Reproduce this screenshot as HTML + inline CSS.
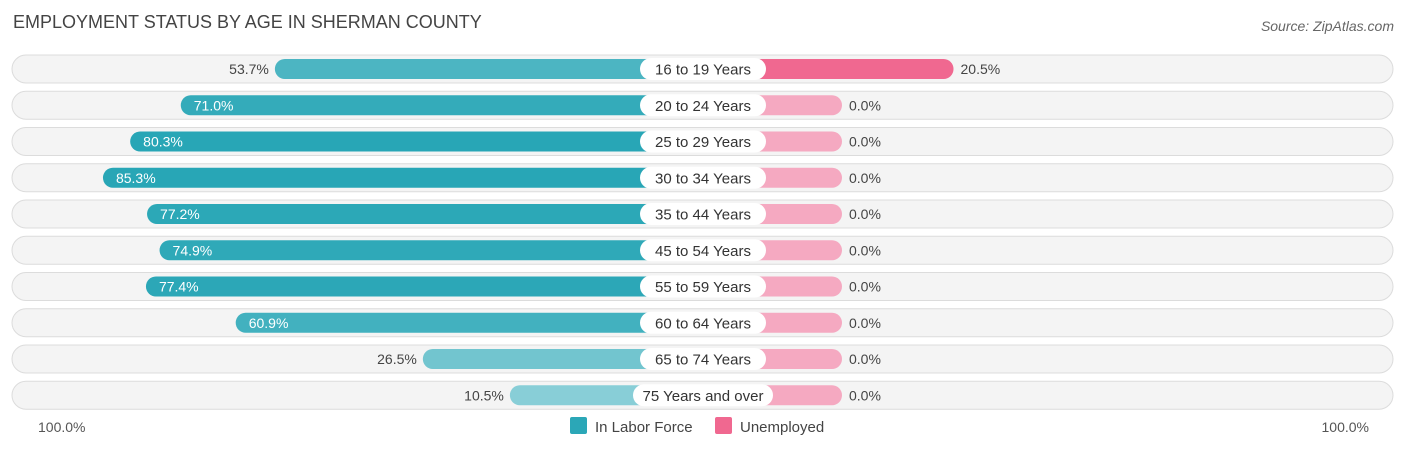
<!DOCTYPE html>
<html><head><meta charset="utf-8"><style>
body{margin:0;background:#fff;font-family:"Liberation Sans",sans-serif}
</style></head><body>
<svg id="c" width="1406" height="450" xmlns="http://www.w3.org/2000/svg">
<text x="13" y="28" font-size="18" fill="#444">EMPLOYMENT STATUS BY AGE IN SHERMAN COUNTY</text>
<text x="1394" y="31" font-size="14" fill="#666" font-style="italic" text-anchor="end">Source: ZipAtlas.com</text>
<g id="rows"></g>
<text x="38" y="432" font-size="14" fill="#555">100.0%</text>
<text x="1369" y="432" font-size="14" fill="#555" text-anchor="end">100.0%</text>
<rect x="570" y="417" width="17" height="17" rx="2" fill="#2ba7b7"/>
<text x="595" y="432" font-size="15" fill="#444">In Labor Force</text>
<rect x="715" y="417" width="17" height="17" rx="2" fill="#f06890"/>
<text x="740" y="432" font-size="15" fill="#444">Unemployed</text>
</svg>
<script>
const categories=["16 to 19 Years","20 to 24 Years","25 to 29 Years","30 to 34 Years","35 to 44 Years","45 to 54 Years","55 to 59 Years","60 to 64 Years","65 to 74 Years","75 Years and over"];
const laborForce=[53.7,71.0,80.3,85.3,77.2,74.9,77.4,60.9,26.5,10.5];
const unemployed=[20.5,0,0,0,0,0,0,0,0,0];
const NS="http://www.w3.org/2000/svg";
const g=document.getElementById('rows');
const K=5.44, center=703, lz=567, rz=839;
const xL=v=>lz-K*v, xR=v=>rz+K*v;
const yRow=i=>69+i*36.25;
function mk(t,a){const e=document.createElementNS(NS,t);for(const k in a)e.setAttribute(k,a[k]);g.appendChild(e);return e;}
function lerp(a,b,t){return Math.round(a+(b-a)*t);}
categories.forEach((c,i)=>{
  const y=yRow(i);
  const bg=mk('rect',{x:12,y:y-14,width:1381,height:28,rx:14,fill:'#f4f4f4',stroke:'#dcdcdc'});
  
  
  const v=laborForce[i];
  const t=Math.min(1,v/80);
  const col=`rgb(${lerp(150,40,t)},${lerp(212,166,t)},${lerp(220,182,t)})`;
  const x0=xL(v);
  const b=mk('rect',{x:x0,y:y-10,width:center-x0,height:20,rx:10,fill:col});
  
  
  const inside=v>60;
  const lt=mk('text',{x:inside?x0+13:x0-6,y:y+5,'font-size':14,fill:inside?'#fff':'#444','text-anchor':inside?'start':'end'});
  lt.textContent=v.toFixed(1)+'%';
  
  
  const u=unemployed[i];
  const x1=xR(u)+3;
  const rb=mk('rect',{x:center,y:y-10,width:x1-center,height:20,rx:10,fill:u>5?'#f06890':'#f5a9c1'});
  
  
  const rt=mk('text',{x:x1+7,y:y+5,'font-size':14,fill:'#444'});
  rt.textContent=u.toFixed(1)+'%';
  
  
  const w=c.length>14?140:126;
  const p=mk('rect',{x:center-w/2,y:y-11,width:w,height:22,rx:11,fill:'#fff'});
  
  
  const ct=mk('text',{x:center,y:y+5.5,'font-size':15,fill:'#333','text-anchor':'middle'});
  ct.textContent=c;
  
  
});
</script>
</body></html>
